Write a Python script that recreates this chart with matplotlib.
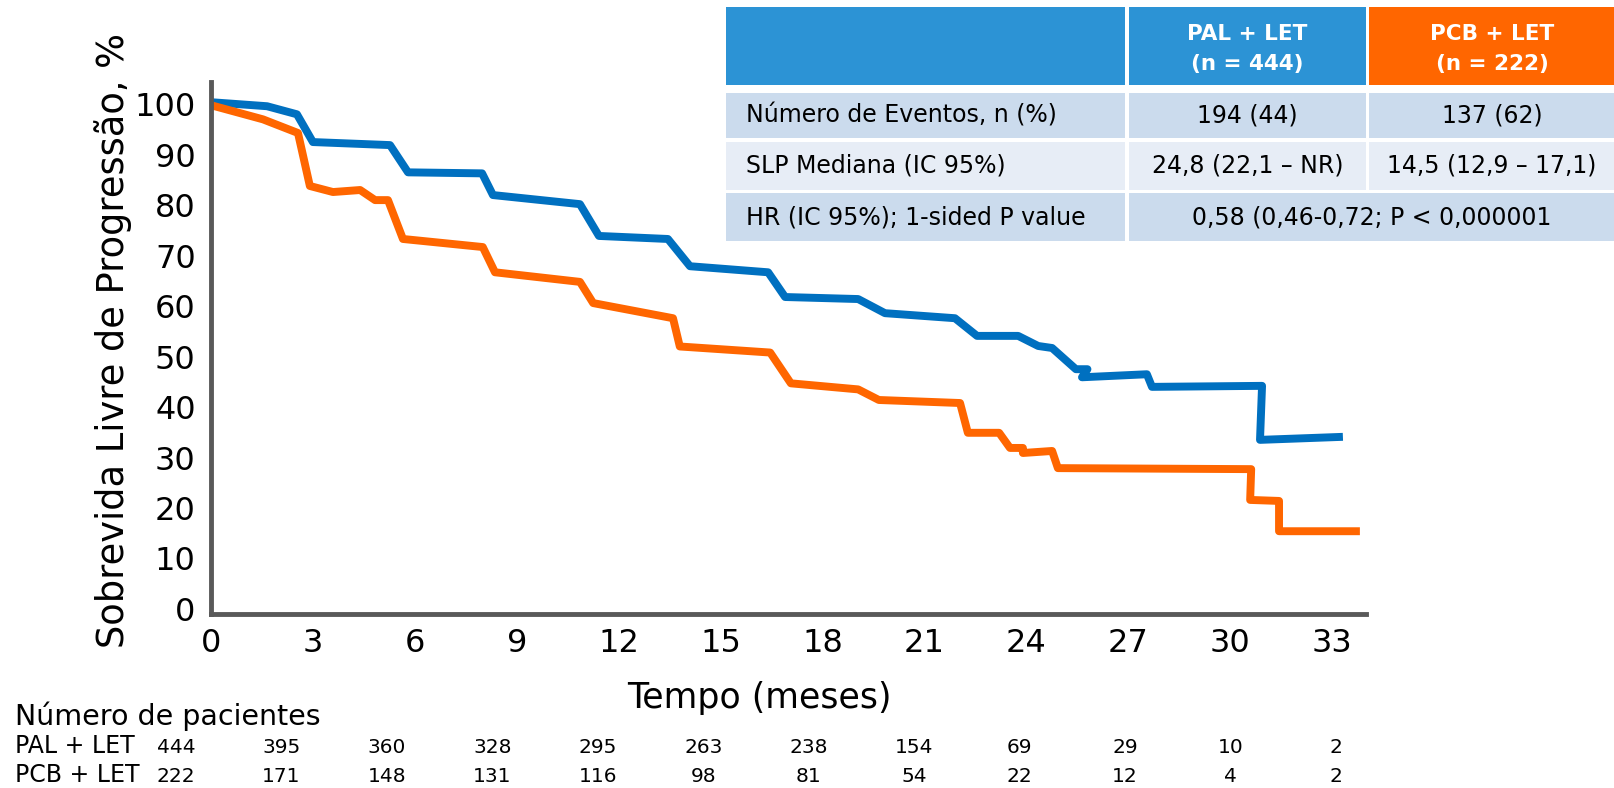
import matplotlib
matplotlib.use("Agg")
import matplotlib.pyplot as plt
import numpy as np
from matplotlib.patches import Rectangle

plt.rcParams["font.family"] = ["DejaVu Sans"]

# Kaplan-Meier curves: time (months) and progression-free survival (%)
pal_t = [0, 1.65, 2.53, 3.0, 5.27, 5.8, 7.98, 8.3, 10.86, 11.42, 13.45, 14.1,
         16.4, 16.9, 19.05, 19.84, 21.9, 22.55, 23.76, 24.35, 24.76, 25.46,
         25.8, 25.64, 27.55, 27.7, 30.94, 30.88, 33.32]
pal_s = [100.4, 99.6, 98.0, 92.5, 91.9, 86.5, 86.3, 82.0, 80.2, 73.9, 73.3, 67.9,
         66.7, 61.8, 61.4, 58.6, 57.6, 54.1, 54.1, 52.1, 51.7, 47.5,
         47.5, 45.9, 46.5, 44.0, 44.2, 33.5, 34.1]
pcb_t = [0, 1.53, 2.56, 2.91, 3.59, 4.39, 4.83, 5.21, 5.65, 8.0, 8.36, 10.86,
         11.25, 13.6, 13.8, 16.46, 17.07, 19.05, 19.66, 22.05, 22.28, 23.2,
         23.52, 23.9, 23.9, 24.76, 24.93, 30.62, 30.59, 31.44, 31.44, 33.82]
pcb_s = [99.8, 97.0, 94.3, 83.8, 82.6, 83.0, 81.0, 81.0, 73.3, 71.7, 66.7, 64.8,
         60.6, 57.6, 52.0, 50.8, 44.7, 43.5, 41.4, 40.8, 34.9, 34.9,
         31.9, 31.9, 30.9, 31.3, 27.9, 27.7, 21.6, 21.4, 15.4, 15.4]

x_ticks = list(range(0, 34, 3))
y_ticks = list(range(0, 101, 10))

# patients at risk
risk_labels = ["PAL + LET", "PCB + LET"]
risk_pal = [444, 395, 360, 328, 295, 263, 238, 154, 69, 29, 10, 2]
risk_pcb = [222, 171, 148, 131, 116, 98, 81, 54, 22, 12, 4, 2]

# summary table
arm_names = ["PAL + LET", "PCB + LET"]
arm_n = ["(n = 444)", "(n = 222)"]
row_labels = ["Número de Eventos, n (%)", "SLP Mediana (IC 95%)",
              "HR (IC 95%); 1-sided P value"]
events = ["194 (44)", "137 (62)"]
median_pfs = ["24,8 (22,1 – NR)", "14,5 (12,9 – 17,1)"]
hr_text = "0,58 (0,46-0,72; P < 0,000001"

BLUE = "#0070C0"
ORANGE = "#FF6600"
HEAD_BLUE = "#2C93D5"
W, H = 1615, 788

fig = plt.figure(figsize=(W / 100, H / 100), dpi=100)


def fx(px):
    return px / W


def fy(py):
    return 1 - py / H


# main plot
ax = fig.add_axes([fx(211), fy(614), fx(1366 - 211), (614 - 82) / H])
ax.plot(pal_t, pal_s, color=BLUE, lw=5.7, solid_joinstyle="round",
        solid_capstyle="butt", clip_on=False)
ax.plot(pcb_t, pcb_s, color=ORANGE, lw=5.7, solid_joinstyle="round",
        solid_capstyle="butt", clip_on=False)
ax.set_xlim(0, 34)
ax.set_ylim(-1, 104.4)
ax.set_xticks(x_ticks)
ax.set_yticks(y_ticks)
ax.tick_params(length=0, labelsize=23)
ax.tick_params(axis="x", pad=10)
ax.tick_params(axis="y", pad=11)
for s in ["top", "right"]:
    ax.spines[s].set_visible(False)
for s in ["left", "bottom"]:
    ax.spines[s].set_color("#595959")
    ax.spines[s].set_linewidth(3.5)

fig.text(fx(113), fy(340), "Sobrevida Livre de Progressão, %", rotation=90,
         ha="center", va="center", fontsize=26.5)
fig.text(fx(759), fy(698), "Tempo (meses)", ha="center", va="center",
         fontsize=25)

# number at risk
fig.text(fx(15), fy(725), "Número de pacientes", ha="left", va="baseline",
         fontsize=20.5)
risk_x = np.linspace(176, 1336, len(risk_pal))
for label, counts, base in zip(risk_labels, [risk_pal, risk_pcb], [753, 782]):
    fig.text(fx(15), fy(base), label, ha="left", va="baseline", fontsize=17)
    for x, n in zip(risk_x, counts):
        fig.text(fx(x), fy(base), str(n), ha="center", va="baseline",
                 fontsize=14.5)


# summary table
def cell(x0, y0, x1, y1, color):
    fig.patches.append(Rectangle((fx(x0), fy(y1)), fx(x1 - x0), (y1 - y0) / H,
                                 transform=fig.transFigure, color=color,
                                 lw=0, zorder=0))


col_x = [(726, 1125), (1129, 1366), (1369, 1615)]
row_y = [(93, 138), (142, 190), (193, 241)]
row_bg = ["#CBDBED", "#E7EDF6", "#CBDBED"]

cell(col_x[0][0], 7, col_x[0][1], 85, HEAD_BLUE)
cell(col_x[1][0], 7, col_x[1][1], 85, HEAD_BLUE)
cell(col_x[2][0], 7, col_x[2][1], 85, ORANGE)
for i, c in enumerate(col_x[1:]):
    xc = (c[0] + c[1]) / 2
    fig.text(fx(xc), fy(34), arm_names[i], ha="center", va="center",
             color="white", fontsize=15.5, fontweight="bold")
    fig.text(fx(xc), fy(64), arm_n[i], ha="center", va="center",
             color="white", fontsize=15.5, fontweight="bold")

for r, (y0, y1) in enumerate(row_y):
    cell(col_x[0][0], y0, col_x[0][1], y1, row_bg[r])
    if r < 2:
        cell(col_x[1][0], y0, col_x[1][1], y1, row_bg[r])
        cell(col_x[2][0], y0, col_x[2][1], y1, row_bg[r])
    else:
        cell(col_x[1][0], y0, col_x[2][1], y1, row_bg[r])
    yc = (y0 + y1) / 2
    fig.text(fx(746), fy(yc), row_labels[r], ha="left", va="center",
             fontsize=17)

for r, vals in enumerate([events, median_pfs]):
    yc = sum(row_y[r]) / 2
    for c, v in enumerate(vals):
        xc = sum(col_x[c + 1]) / 2
        fig.text(fx(xc), fy(yc), v, ha="center", va="center", fontsize=17)
fig.text(fx((col_x[1][0] + col_x[2][1]) / 2), fy(sum(row_y[2]) / 2), hr_text,
         ha="center", va="center", fontsize=17)

fig.savefig("out.png", dpi=100)
